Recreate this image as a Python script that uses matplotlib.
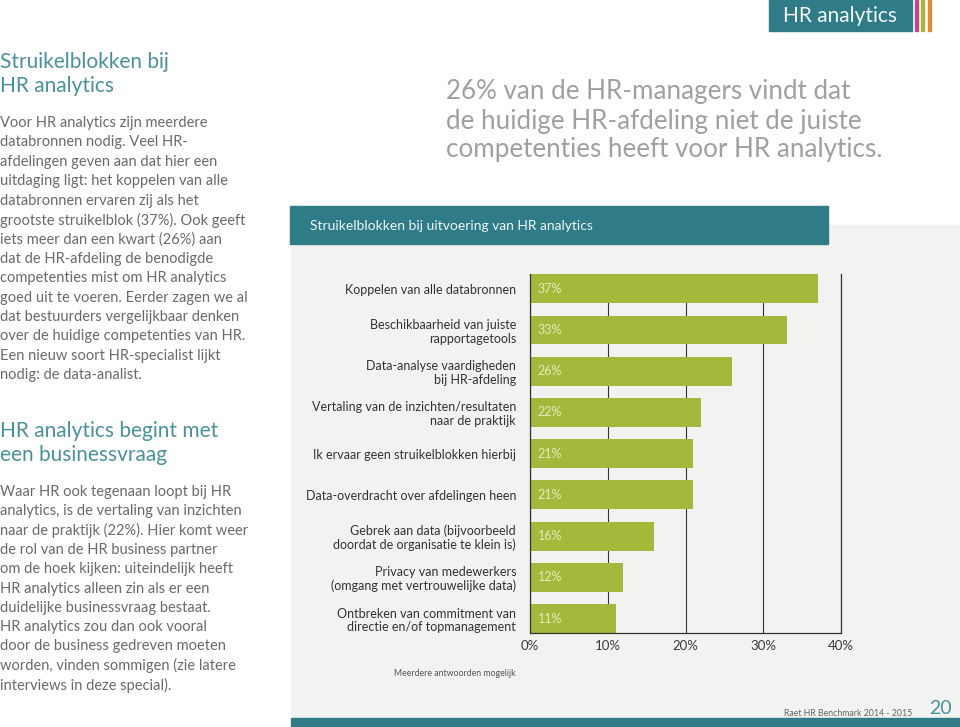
import matplotlib
matplotlib.use('Agg')
import matplotlib.pyplot as plt
from matplotlib.patches import Rectangle

# chart data
categories = [
    'Koppelen van alle databronnen',
    'Beschikbaarheid van juiste\nrapportagetools',
    'Data-analyse vaardigheden\nbij HR-afdeling',
    'Vertaling van de inzichten/resultaten\nnaar de praktijk',
    'Ik ervaar geen struikelblokken hierbij',
    'Data-overdracht over afdelingen heen',
    'Gebrek aan data (bijvoorbeeld\ndoordat de organisatie te klein is)',
    'Privacy van medewerkers\n(omgang met vertrouwelijke data)',
    'Ontbreken van commitment van\ndirectie en/of topmanagement',
]
values = [37, 33, 26, 22, 21, 21, 16, 12, 11]
x_ticks = [0, 10, 20, 30, 40]
x_tick_labels = ['0%', '10%', '20%', '30%', '40%']

heading1 = ['Struikelblokken bij', 'HR analytics']
body1 = [
    'Voor HR analytics zijn meerdere',
    'databronnen nodig. Veel HR-',
    'afdelingen geven aan dat hier een',
    'uitdaging ligt: het koppelen van alle',
    'databronnen ervaren zij als het',
    'grootste struikelblok (37%). Ook geeft',
    'iets meer dan een kwart (26%) aan',
    'dat de HR-afdeling de benodigde',
    'competenties mist om HR analytics',
    'goed uit te voeren. Eerder zagen we al',
    'dat bestuurders vergelijkbaar denken',
    'over de huidige competenties van HR.',
    'Een nieuw soort HR-specialist lijkt',
    'nodig: de data-analist.',
]
heading2 = ['HR analytics begint met', 'een businessvraag']
body2 = [
    'Waar HR ook tegenaan loopt bij HR',
    'analytics, is de vertaling van inzichten',
    'naar de praktijk (22%). Hier komt weer',
    'de rol van de HR business partner',
    'om de hoek kijken: uiteindelijk heeft',
    'HR analytics alleen zin als er een',
    'duidelijke businessvraag bestaat.',
    'HR analytics zou dan ook vooral',
    'door de business gedreven moeten',
    'worden, vinden sommigen (zie latere',
    'interviews in deze special).',
]
quote = [
    '26% van de HR-managers vindt dat',
    'de huidige HR-afdeling niet de juiste',
    'competenties heeft voor HR analytics.',
]

TEAL = '#2f7b87'
TEAL_TXT = '#4a929b'
GREEN = '#a4b83b'
PANEL = '#f2f2f0'
GREY_TXT = '#6a6a6a'

plt.rcParams['font.family'] = ['Lato', 'DejaVu Sans']

W, H = 960, 727
fig = plt.figure(figsize=(W / 100, H / 100), dpi=100)
fig.patch.set_facecolor('white')

# page layer in pixel coordinates
bg = fig.add_axes([0, 0, 1, 1])
bg.set_xlim(0, W)
bg.set_ylim(H, 0)
bg.axis('off')

bg.add_patch(Rectangle((291, 225), W - 291, 493, color=PANEL, zorder=0))
bg.add_patch(Rectangle((291, 718), W - 291, 9, color=TEAL, zorder=1))
bg.add_patch(Rectangle((290, 206), 538, 38, color=TEAL, zorder=1))
bg.text(310, 226, 'Struikelblokken bij uitvoering van HR analytics',
        color='#eef6f7', fontsize=10, va='center')

# header tab
bg.add_patch(Rectangle((769, 0), 143, 31, color=TEAL, zorder=1))
bg.text(840, 16, 'HR analytics', color='#f2f8f9', fontsize=15,
        ha='center', va='center')
for x0, c in [(915, '#c0448f'), (921, '#a4b83b'), (928, '#e08a3c')]:
    bg.add_patch(Rectangle((x0, 0), 3, 31, color=c, zorder=1))

# left column
for i, line in enumerate(heading1):
    bg.text(0, 62 + i * 24, line, color=TEAL_TXT, fontsize=15, va='center')
for i, line in enumerate(body1):
    bg.text(0, 123 + i * 19.4, line, color=GREY_TXT, fontsize=10.5,
            va='center')
for i, line in enumerate(heading2):
    bg.text(0, 431 + i * 24, line, color=TEAL_TXT, fontsize=15, va='center')
for i, line in enumerate(body2):
    bg.text(0, 492 + i * 19.3, line, color=GREY_TXT, fontsize=10.5,
            va='center')

# quote
for i, line in enumerate(quote):
    bg.text(446, 92 + i * 29, line, color='#a0a0a0', fontsize=18.7,
            va='center')

bg.text(516, 673, 'Meerdere antwoorden mogelijk', color='#555555',
        fontsize=6.3, ha='right', va='center')
bg.text(912, 713, 'Raet HR Benchmark 2014 - 2015', color='#666666',
        fontsize=6.3, ha='right', va='center')
bg.text(940, 709, '20', color=TEAL_TXT, fontsize=14,
        ha='center', va='center')

# bar chart
ax = fig.add_axes([530 / W, (H - 633) / H, 311 / W, 359 / H])
ax.set_facecolor('none')
pos = list(range(len(categories)))
ax.barh(pos, values, height=0.7, color=GREEN, zorder=2)
ax.set_xlim(0, 40)
ax.set_ylim(len(categories) - 0.65, -0.36)
ax.set_xticks(x_ticks)
ax.set_xticklabels(x_tick_labels, fontsize=9.5, color='#3a3a3a')
ax.set_yticks(pos)
ax.set_yticklabels(categories, fontsize=9, color='#333333',
                   linespacing=1.15)
ax.tick_params(length=0, pad=10)
ax.tick_params(axis='x', pad=5)
for t in ax.get_yticklabels():
    t.set_horizontalalignment('right')
    t.set_multialignment('right')
ax.xaxis.grid(True, color='#333333', linewidth=0.8, zorder=1)
ax.set_axisbelow(True)
for side in ['left', 'bottom', 'right']:
    ax.spines[side].set_color('#333333')
    ax.spines[side].set_linewidth(0.9)
ax.spines['top'].set_visible(False)
for p, v in zip(pos, values):
    ax.text(1, p, f'{v}%', color='#e4ecc0', fontsize=9,
            va='center', zorder=3)

fig.savefig('out.png', dpi=100, facecolor='white')
